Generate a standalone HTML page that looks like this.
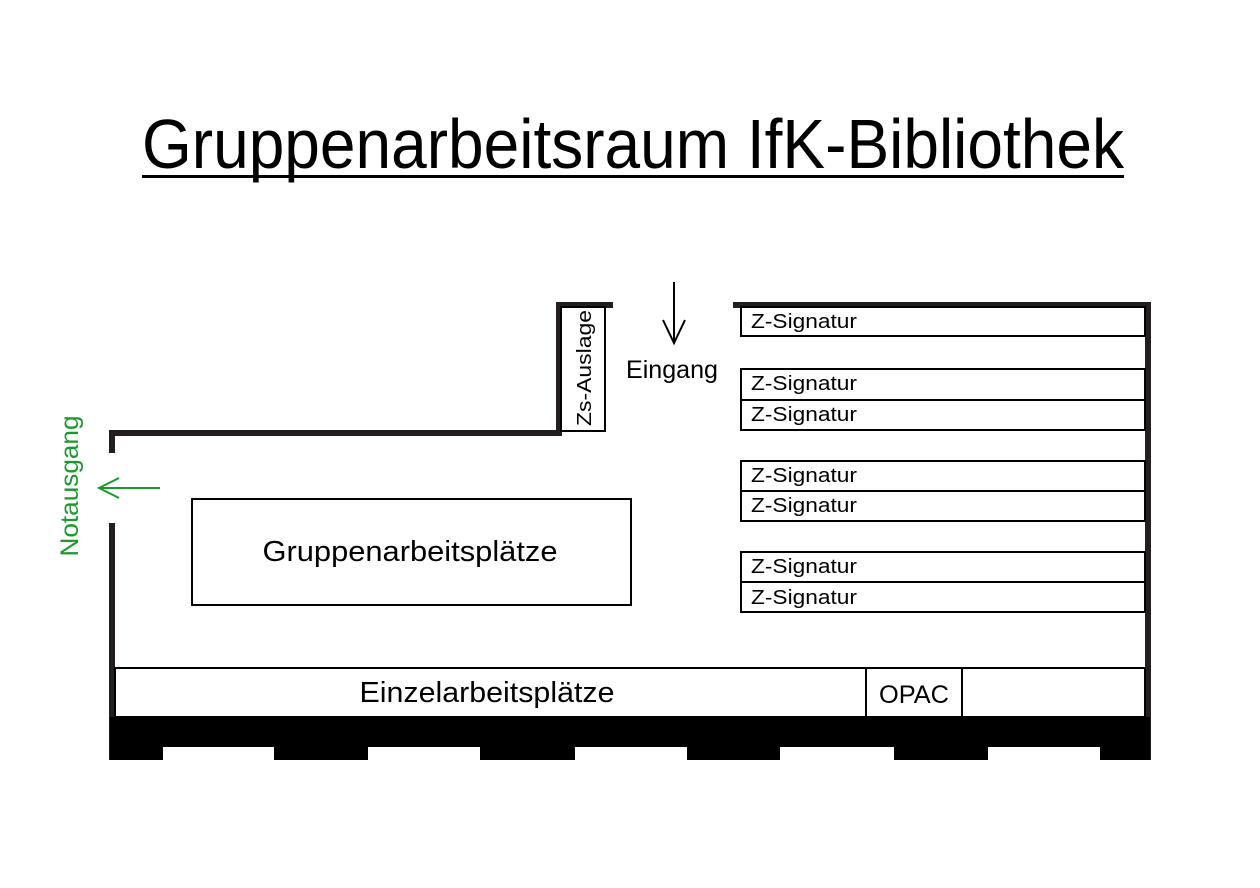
<!DOCTYPE html>
<html><head><meta charset="utf-8"><style>html,body{margin:0;padding:0;background:#fff}svg{display:block}</style></head>
<body>
<svg width="1260" height="888" viewBox="0 0 1260 888" xmlns="http://www.w3.org/2000/svg" font-family="Liberation Sans, sans-serif">
<rect width="1260" height="888" fill="#fff"/>
<text x="142" y="168" font-size="70" textLength="982" lengthAdjust="spacingAndGlyphs" fill="#000">Gruppenarbeitsraum IfK-Bibliothek</text>
<rect x="142" y="175" width="982" height="3" fill="#000"/>

<g fill="#231f20">
<rect x="109" y="430" width="452" height="6"/>
<rect x="109" y="430" width="6" height="23"/>
<rect x="109" y="523" width="6" height="237"/>
<rect x="556" y="302" width="6" height="134"/>
<rect x="556" y="302" width="57" height="6"/>
<rect x="733" y="302" width="418" height="6"/>
<rect x="1145" y="302" width="6" height="458"/>
</g>
<path d="M110 717 H1150 V760 H1100 V747 H988 V760 H894 V747 H780 V760 H687 V747 H575 V760 H480 V747 H368 V760 H274 V747 H163 V760 H110 Z" fill="#000"/>

<g fill="none" stroke="#000" stroke-width="2">
<rect x="561" y="307" width="44" height="124"/>
<rect x="192" y="499" width="439" height="106"/>
<rect x="741" y="307" width="404" height="29"/>
<rect x="741" y="369" width="404" height="31"/>
<rect x="741" y="400" width="404" height="30"/>
<rect x="741" y="461" width="404" height="30"/>
<rect x="741" y="491" width="404" height="30"/>
<rect x="741" y="552" width="404" height="30"/>
<rect x="741" y="582" width="404" height="30"/>
<rect x="115" y="668" width="1030" height="49"/>
<line x1="866" y1="668" x2="866" y2="717"/>
<line x1="962" y1="668" x2="962" y2="717"/>
<path d="M674 282 V343 M663 320 L674 343 L685 320"/>
</g>

<g font-size="20" fill="#000">
<text x="751" y="328" textLength="106" lengthAdjust="spacingAndGlyphs">Z-Signatur</text>
<text x="751" y="390" textLength="106" lengthAdjust="spacingAndGlyphs">Z-Signatur</text>
<text x="751" y="421" textLength="106" lengthAdjust="spacingAndGlyphs">Z-Signatur</text>
<text x="751" y="482" textLength="106" lengthAdjust="spacingAndGlyphs">Z-Signatur</text>
<text x="751" y="512" textLength="106" lengthAdjust="spacingAndGlyphs">Z-Signatur</text>
<text x="751" y="573" textLength="106" lengthAdjust="spacingAndGlyphs">Z-Signatur</text>
<text x="751" y="604" textLength="106" lengthAdjust="spacingAndGlyphs">Z-Signatur</text>
</g>
<text x="591" y="368" font-size="20" text-anchor="middle" textLength="116" lengthAdjust="spacingAndGlyphs" transform="rotate(-90 591 368)">Zs-Auslage</text>
<text x="672" y="378" font-size="25" text-anchor="middle" textLength="92" lengthAdjust="spacingAndGlyphs">Eingang</text>
<text x="410" y="561" font-size="29" text-anchor="middle" textLength="295" lengthAdjust="spacingAndGlyphs">Gruppenarbeitsplätze</text>
<text x="487" y="702" font-size="29" text-anchor="middle" textLength="255" lengthAdjust="spacingAndGlyphs">Einzelarbeitsplätze</text>
<text x="914" y="703" font-size="25" text-anchor="middle" textLength="70" lengthAdjust="spacingAndGlyphs">OPAC</text>

<text x="78" y="486" font-size="25" fill="#1a9a2a" text-anchor="middle" textLength="141" lengthAdjust="spacingAndGlyphs" transform="rotate(-90 78 486)">Notausgang</text>
<path d="M160 488 H99 M119 478 L99 488 L119 498" fill="none" stroke="#1a9a2a" stroke-width="2"/>
</svg>
</body></html>
